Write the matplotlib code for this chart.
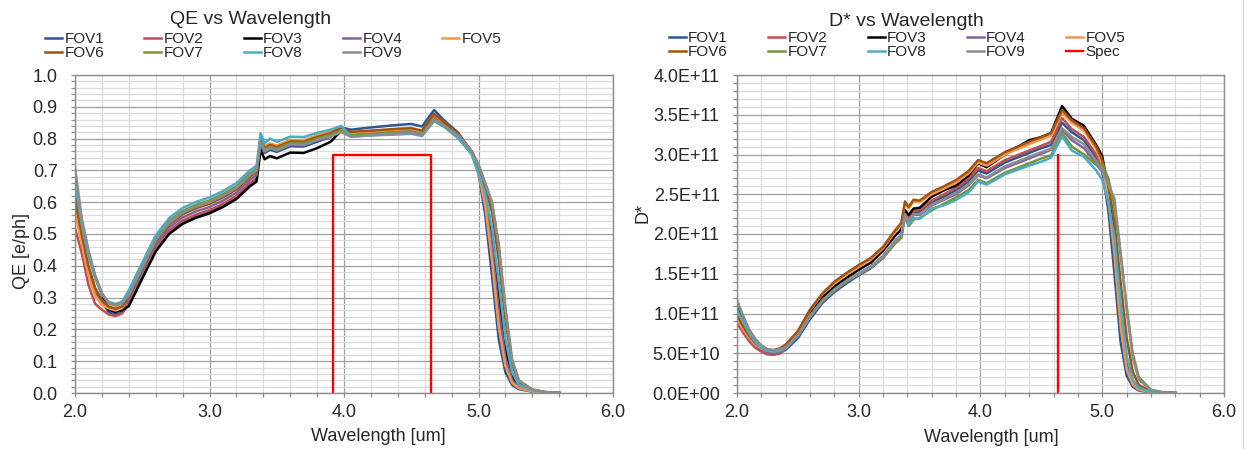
import matplotlib
matplotlib.use("Agg")
import matplotlib.pyplot as plt
from matplotlib.ticker import MultipleLocator, FuncFormatter
from matplotlib.lines import Line2D

# ---------------------------------------------------------------- data
wavelength = [2.00, 2.05, 2.10, 2.15, 2.20, 2.25, 2.30, 2.35, 2.40, 2.50,
              2.60, 2.70, 2.80, 2.90, 3.00, 3.10, 3.20, 3.30, 3.35, 3.38,
              3.41, 3.45, 3.50, 3.60, 3.70, 3.80, 3.90, 3.98, 4.05, 4.20,
              4.40, 4.50, 4.58, 4.67, 4.75, 4.85, 4.95, 5.00, 5.05, 5.10,
              5.15, 5.20, 5.25, 5.30, 5.40, 5.50, 5.60]

fov_labels = ["FOV1", "FOV2", "FOV3", "FOV4", "FOV5",
              "FOV6", "FOV7", "FOV8", "FOV9"]
fov_colors = ["#2F5597", "#C0504D", "#000000", "#8064A2", "#F79646",
              "#A0520F", "#77933C", "#4BACC6", "#8C8C8C"]

# quantum efficiency [e/ph]
qe_fov1 = [0.62, 0.49, 0.39, 0.32, 0.285, 0.255, 0.247, 0.252, 0.278, 0.365,
           0.45, 0.505, 0.537, 0.556, 0.57, 0.59, 0.615, 0.655, 0.67, 0.785,
           0.755, 0.765, 0.758, 0.776, 0.775, 0.79, 0.805, 0.835, 0.828, 0.835,
           0.843, 0.846, 0.838, 0.89, 0.855, 0.818, 0.755, 0.69, 0.56, 0.37,
           0.17, 0.065, 0.025, 0.012, 0.004, 0.001, 0.0]
qe_fov2 = [0.52, 0.44, 0.34, 0.28, 0.262, 0.247, 0.242, 0.25, 0.283, 0.37,
           0.455, 0.51, 0.542, 0.561, 0.575, 0.595, 0.62, 0.66, 0.675, 0.795,
           0.765, 0.775, 0.768, 0.786, 0.785, 0.80, 0.812, 0.83, 0.815, 0.819,
           0.825, 0.827, 0.819, 0.87, 0.845, 0.81, 0.757, 0.70, 0.62, 0.48,
           0.28, 0.12, 0.045, 0.018, 0.006, 0.001, 0.0]
qe_fov3 = [0.66, 0.54, 0.44, 0.365, 0.31, 0.262, 0.255, 0.26, 0.273, 0.36,
           0.445, 0.50, 0.532, 0.551, 0.565, 0.585, 0.61, 0.65, 0.665, 0.765,
           0.735, 0.745, 0.738, 0.756, 0.755, 0.77, 0.79, 0.825, 0.815, 0.822,
           0.828, 0.83, 0.822, 0.872, 0.845, 0.81, 0.755, 0.70, 0.63, 0.50,
           0.31, 0.14, 0.055, 0.021, 0.007, 0.002, 0.0]
qe_fov4 = [0.60, 0.49, 0.39, 0.32, 0.287, 0.267, 0.26, 0.267, 0.293, 0.38,
           0.465, 0.52, 0.552, 0.571, 0.585, 0.605, 0.63, 0.67, 0.685, 0.79,
           0.76, 0.77, 0.763, 0.781, 0.78, 0.795, 0.807, 0.827, 0.813, 0.817,
           0.823, 0.825, 0.817, 0.865, 0.842, 0.808, 0.752, 0.70, 0.61, 0.46,
           0.26, 0.11, 0.04, 0.017, 0.006, 0.001, 0.0]
qe_fov5 = [0.57, 0.47, 0.37, 0.305, 0.277, 0.267, 0.26, 0.267, 0.313, 0.40,
           0.485, 0.54, 0.572, 0.591, 0.605, 0.625, 0.65, 0.69, 0.705, 0.805,
           0.775, 0.785, 0.778, 0.796, 0.795, 0.81, 0.822, 0.832, 0.818, 0.822,
           0.828, 0.83, 0.822, 0.875, 0.848, 0.81, 0.75, 0.69, 0.59, 0.42,
           0.21, 0.085, 0.032, 0.015, 0.005, 0.001, 0.0]
qe_fov6 = [0.61, 0.50, 0.40, 0.33, 0.292, 0.272, 0.265, 0.272, 0.303, 0.39,
           0.475, 0.53, 0.562, 0.581, 0.595, 0.615, 0.64, 0.68, 0.695, 0.80,
           0.77, 0.78, 0.773, 0.791, 0.79, 0.805, 0.817, 0.835, 0.821, 0.825,
           0.831, 0.833, 0.825, 0.878, 0.85, 0.815, 0.76, 0.71, 0.65, 0.57,
           0.42, 0.23, 0.09, 0.034, 0.01, 0.002, 0.0]
qe_fov7 = [0.69, 0.54, 0.44, 0.365, 0.312, 0.282, 0.275, 0.282, 0.313, 0.40,
           0.485, 0.54, 0.572, 0.591, 0.605, 0.625, 0.65, 0.69, 0.705, 0.795,
           0.765, 0.775, 0.768, 0.786, 0.785, 0.80, 0.812, 0.824, 0.81, 0.814,
           0.82, 0.822, 0.814, 0.862, 0.84, 0.81, 0.76, 0.71, 0.66, 0.60,
           0.47, 0.27, 0.105, 0.04, 0.011, 0.003, 0.0]
qe_fov8 = [0.66, 0.53, 0.43, 0.36, 0.31, 0.287, 0.28, 0.287, 0.323, 0.41,
           0.495, 0.55, 0.582, 0.601, 0.615, 0.635, 0.66, 0.70, 0.715, 0.817,
           0.785, 0.80, 0.79, 0.806, 0.805, 0.818, 0.828, 0.84, 0.806, 0.81,
           0.813, 0.815, 0.808, 0.855, 0.835, 0.80, 0.75, 0.69, 0.63, 0.52,
           0.35, 0.17, 0.065, 0.025, 0.008, 0.002, 0.0]
qe_fov9 = [0.71, 0.55, 0.45, 0.37, 0.315, 0.282, 0.275, 0.282, 0.308, 0.395,
           0.48, 0.535, 0.567, 0.586, 0.60, 0.62, 0.645, 0.685, 0.70, 0.79,
           0.76, 0.77, 0.763, 0.781, 0.78, 0.795, 0.807, 0.82, 0.806, 0.81,
           0.816, 0.818, 0.81, 0.858, 0.838, 0.81, 0.76, 0.72, 0.66, 0.60,
           0.46, 0.26, 0.10, 0.038, 0.011, 0.003, 0.0]

# specific detectivity, in units of 1E+11
dstar_fov1 = [0.95, 0.81, 0.69, 0.60, 0.54, 0.50, 0.49, 0.50, 0.545, 0.69,
              0.93, 1.13, 1.27, 1.38, 1.48, 1.57, 1.70, 1.90, 1.98, 2.24,
              2.18, 2.27, 2.28, 2.40, 2.47, 2.55, 2.66, 2.80, 2.76, 2.90,
              3.02, 3.08, 3.12, 3.40, 3.28, 3.18, 2.96, 2.80, 2.30, 1.50,
              0.65, 0.22, 0.08, 0.03, 0.008, 0.002, 0.0]
dstar_fov2 = [0.88, 0.76, 0.65, 0.57, 0.52, 0.485, 0.48, 0.495, 0.56, 0.72,
              0.96, 1.16, 1.30, 1.41, 1.50, 1.59, 1.72, 1.92, 1.99, 2.26,
              2.20, 2.29, 2.30, 2.42, 2.50, 2.58, 2.69, 2.83, 2.79, 2.93,
              3.05, 3.11, 3.16, 3.46, 3.32, 3.22, 3.00, 2.85, 2.50, 1.88,
              1.00, 0.38, 0.13, 0.05, 0.012, 0.003, 0.0]
dstar_fov3 = [1.08, 0.91, 0.76, 0.65, 0.58, 0.53, 0.52, 0.535, 0.58, 0.75,
              1.00, 1.20, 1.34, 1.45, 1.55, 1.64, 1.79, 1.98, 2.06, 2.30,
              2.24, 2.32, 2.33, 2.47, 2.55, 2.61, 2.73, 2.89, 2.84, 3.00,
              3.18, 3.22, 3.27, 3.61, 3.45, 3.36, 3.12, 2.98, 2.55, 1.95,
              1.05, 0.42, 0.15, 0.055, 0.013, 0.003, 0.0]
dstar_fov4 = [0.93, 0.80, 0.69, 0.60, 0.545, 0.51, 0.505, 0.52, 0.565, 0.72,
              0.96, 1.16, 1.30, 1.41, 1.50, 1.59, 1.72, 1.91, 1.98, 2.23,
              2.15, 2.24, 2.24, 2.36, 2.43, 2.50, 2.61, 2.74, 2.70, 2.83,
              2.95, 3.01, 3.06, 3.31, 3.18, 3.08, 2.88, 2.78, 2.45, 1.80,
              0.92, 0.34, 0.12, 0.045, 0.01, 0.002, 0.0]
dstar_fov5 = [0.93, 0.80, 0.69, 0.61, 0.56, 0.53, 0.525, 0.545, 0.60, 0.77,
              1.04, 1.24, 1.38, 1.49, 1.59, 1.68, 1.82, 2.03, 2.12, 2.39,
              2.32, 2.41, 2.40, 2.50, 2.57, 2.65, 2.76, 2.90, 2.86, 3.00,
              3.13, 3.19, 3.24, 3.53, 3.40, 3.30, 3.07, 2.88, 2.45, 1.75,
              0.85, 0.30, 0.11, 0.04, 0.01, 0.002, 0.0]
dstar_fov6 = [0.98, 0.84, 0.72, 0.63, 0.575, 0.545, 0.54, 0.56, 0.61, 0.78,
              1.05, 1.25, 1.40, 1.51, 1.61, 1.70, 1.84, 2.05, 2.14, 2.41,
              2.34, 2.43, 2.42, 2.53, 2.60, 2.68, 2.79, 2.93, 2.89, 3.03,
              3.16, 3.22, 3.27, 3.56, 3.43, 3.33, 3.10, 2.93, 2.62, 2.15,
              1.40, 0.70, 0.27, 0.10, 0.02, 0.005, 0.0]
dstar_fov7 = [1.15, 0.96, 0.79, 0.67, 0.59, 0.545, 0.535, 0.545, 0.57, 0.72,
              0.96, 1.15, 1.29, 1.40, 1.49, 1.58, 1.70, 1.88, 1.95, 2.22,
              2.10, 2.18, 2.20, 2.30, 2.38, 2.46, 2.55, 2.68, 2.64, 2.77,
              2.89, 2.95, 2.99, 3.27, 3.10, 3.00, 2.87, 2.88, 2.70, 2.35,
              1.75, 1.10, 0.50, 0.20, 0.04, 0.01, 0.0]
dstar_fov8 = [1.05, 0.89, 0.75, 0.64, 0.57, 0.53, 0.52, 0.53, 0.565, 0.72,
              0.97, 1.16, 1.30, 1.41, 1.50, 1.59, 1.72, 1.91, 1.99, 2.23,
              2.12, 2.20, 2.19, 2.32, 2.36, 2.43, 2.52, 2.66, 2.62, 2.75,
              2.86, 2.91, 2.96, 3.23, 3.05, 2.97, 2.80, 2.68, 2.40, 1.95,
              1.12, 0.47, 0.17, 0.06, 0.014, 0.003, 0.0]
dstar_fov9 = [1.17, 0.97, 0.80, 0.68, 0.60, 0.55, 0.54, 0.55, 0.575, 0.73,
              0.97, 1.16, 1.30, 1.41, 1.50, 1.59, 1.72, 1.90, 1.98, 2.25,
              2.16, 2.25, 2.25, 2.37, 2.44, 2.52, 2.62, 2.75, 2.71, 2.85,
              2.97, 3.03, 3.07, 3.33, 3.22, 3.13, 2.92, 2.80, 2.62, 2.45,
              1.78, 1.05, 0.45, 0.17, 0.035, 0.008, 0.0]
dstar_unit = 1e11

# spectral specification
spec_qe_wl = [3.92, 3.92, 4.65, 4.65]
spec_qe = [0.0, 0.75, 0.75, 0.0]
spec_dstar_wl = [4.64, 4.64]
spec_dstar = [0.0, 3.0e11]

qe_series = [qe_fov1, qe_fov2, qe_fov3, qe_fov4, qe_fov5,
             qe_fov6, qe_fov7, qe_fov8, qe_fov9]
dstar_series = [dstar_fov1, dstar_fov2, dstar_fov3, dstar_fov4, dstar_fov5,
                dstar_fov6, dstar_fov7, dstar_fov8, dstar_fov9]

# ---------------------------------------------------------------- figure
plt.rcParams["font.family"] = ["Liberation Sans", "DejaVu Sans"]
W, H = 1255, 449
fig = plt.figure(figsize=(W / 100, H / 100), dpi=100)
TXT = "#262626"


def px_rect(x0, y0, x1, y1):
    return [x0 / W, 1 - y1 / H, (x1 - x0) / W, (y1 - y0) / H]


ax1 = fig.add_axes(px_rect(75, 75, 613, 393))
ax2 = fig.add_axes(px_rect(737, 75, 1224, 393))


def style(ax, ymax, ymajor, yminor, fmt):
    ax.set_xlim(2, 6)
    ax.set_ylim(0, ymax)
    ax.xaxis.set_major_locator(MultipleLocator(1.0))
    ax.xaxis.set_minor_locator(MultipleLocator(0.2))
    ax.yaxis.set_major_locator(MultipleLocator(ymajor))
    ax.yaxis.set_minor_locator(MultipleLocator(yminor))
    ax.xaxis.set_major_formatter(FuncFormatter(lambda v, p: f"{v:.1f}"))
    ax.yaxis.set_major_formatter(FuncFormatter(fmt))
    ax.grid(which="minor", color="#dcdcdc", lw=0.9)
    ax.grid(which="major", color="#a0a0a0", lw=0.9)
    ax.set_axisbelow(True)
    for s in ax.spines.values():
        s.set_color("#8c8c8c")
        s.set_linewidth(1.0)
    ax.tick_params(which="both", direction="out", length=3,
                   color="#8c8c8c", width=0.9)
    ax.tick_params(axis="both", labelsize=13, labelcolor=TXT)
    ax.tick_params(axis="y", which="major", pad=9.5)
    ax.tick_params(axis="x", which="major", pad=5)


style(ax1, 1.0, 0.1, 0.02, lambda v, p: f"{v:.1f}")
style(ax2, 4e11, 5e10, 1e10, lambda v, p: f"{v:.1E}")

qe_handles = []
for vals, lab, col in zip(qe_series, fov_labels, fov_colors):
    h, = ax1.plot(wavelength, vals, color=col, lw=1.8, label=lab)
    qe_handles.append(h)
ax1.plot(spec_qe_wl, spec_qe, color="#FF0000", lw=1.7)

d_handles = []
for vals, lab, col in zip(dstar_series, fov_labels, fov_colors):
    h, = ax2.plot(wavelength, [v * dstar_unit for v in vals],
                  color=col, lw=1.8, label=lab)
    d_handles.append(h)
hs, = ax2.plot(spec_dstar_wl, spec_dstar, color="#FF0000", lw=1.7,
               label="Spec")
d_handles.append(hs)

# legends laid out row by row (5 columns, 2 rows)
row_order = [0, 5, 1, 6, 2, 7, 3, 8, 4, 9]
leg_kw = dict(loc="upper left", ncol=5, frameon=False, fontsize=11,
              borderpad=0, borderaxespad=0, handlelength=1.11,
              handletextpad=0.15, columnspacing=2.64, labelspacing=0.0,
              labelcolor=TXT)
h1 = [qe_handles[i] for i in row_order if i < len(qe_handles)]
fig.legend(h1, [h.get_label() for h in h1],
           bbox_to_anchor=(45 / W, 1 - 32 / H), **leg_kw)
h2 = [d_handles[i] for i in row_order]
fig.legend(h2, [h.get_label() for h in h2],
           bbox_to_anchor=(669 / W, 1 - 31 / H), **leg_kw)

# titles and axis labels
fig.text(251 / W, 1 - 24 / H, "QE vs Wavelength", ha="center",
         va="baseline", fontsize=14, color=TXT)
fig.text(906 / W, 1 - 26.5 / H, "D* vs Wavelength", ha="center",
         va="baseline", fontsize=14, color=TXT)
fig.text(378 / W, 1 - 441 / H, "Wavelength [um]", ha="center",
         va="baseline", fontsize=13, color=TXT)
fig.text(991 / W, 1 - 441.5 / H, "Wavelength [um]", ha="center",
         va="baseline", fontsize=13, color=TXT)
fig.text(22 / W, 1 - 251 / H, "QE [e/ph]", ha="center", va="center",
         rotation=90, fontsize=13, color=TXT)
fig.text(643 / W, 1 - 212.5 / H, "D*", ha="center", va="center",
         rotation=90, fontsize=13, color=TXT)

# chart-area border on the right edge
fig.add_artist(Line2D([1243 / W, 1243 / W], [0, 1], transform=fig.transFigure,
                      color="#d9d9d9", lw=1))

fig.savefig("out.png", dpi=100)
